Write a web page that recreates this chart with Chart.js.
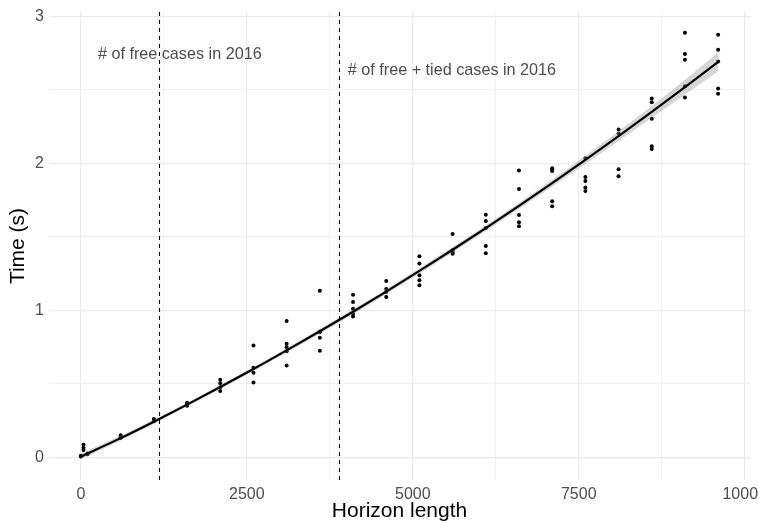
<!DOCTYPE html>
<html>
<head>
<meta charset="utf-8">
<script src="https://cdn.jsdelivr.net/npm/chart.js@4"></script>
<style>
  html, body { margin: 0; padding: 0; background: #fff; }
  #wrap { width: 758px; height: 523px; }
</style>
</head>
<body>
<div id="wrap"><canvas id="chart" width="758" height="523"></canvas></div>
<script>
// horizon lengths that were run, and the solve times (s) of each run
const horizons = [0, 40, 100, 600, 1100, 1600, 2100, 2600, 3100, 3600, 4100, 4600,
  5100, 5600, 6100, 6600, 7100, 7600, 8100, 8600, 9100, 9600];
const timesByHorizon = [
  [0.005, 0.01],
  [0.05, 0.065, 0.085],
  [0.02, 0.025],
  [0.13, 0.14, 0.15, 0.135],
  [0.245, 0.255, 0.26],
  [0.35, 0.36, 0.37],
  [0.527, 0.504, 0.477, 0.45],
  [0.761, 0.609, 0.575, 0.509],
  [0.927, 0.772, 0.749, 0.722, 0.625],
  [1.133, 0.856, 0.813, 0.725, 0.85],
  [1.106, 1.056, 1.011, 0.977, 0.958],
  [1.199, 1.145, 1.124, 1.09],
  [1.367, 1.319, 1.238, 1.204, 1.17],
  [1.519, 1.408, 1.385, 1.395],
  [1.651, 1.608, 1.56, 1.437, 1.388],
  [1.951, 1.826, 1.649, 1.599, 1.572],
  [1.967, 1.948, 1.742, 1.708, 1.955],
  [2.035, 1.907, 1.88, 1.835, 1.812],
  [2.23, 2.203, 1.96, 1.912],
  [2.441, 2.416, 2.303, 2.117, 2.098],
  [2.888, 2.745, 2.705, 2.525, 2.448],
  [2.875, 2.773, 2.693, 2.51, 2.473]
];

// smoothed fit and its confidence band
const fitX = [0, 600, 1100, 1600, 2100, 2600, 3100, 3600, 4100, 4600, 5100, 5600,
  6100, 6600, 7100, 7600, 8100, 8600, 9100, 9600];
const fitY = [0.005, 0.13, 0.242, 0.358, 0.478, 0.6, 0.727, 0.857, 0.99, 1.127, 1.268,
  1.412, 1.559, 1.71, 1.865, 2.023, 2.185, 2.35, 2.519, 2.69];
const bandLow = [-0.015, 0.114, 0.228, 0.345, 0.465, 0.586, 0.712, 0.841, 0.973, 1.11,
  1.25, 1.394, 1.54, 1.689, 1.841, 1.995, 2.152, 2.31, 2.469, 2.625];
const bandHigh = [0.025, 0.146, 0.256, 0.371, 0.491, 0.614, 0.742, 0.873, 1.007, 1.144,
  1.286, 1.43, 1.578, 1.731, 1.889, 2.051, 2.218, 2.39, 2.569, 2.755];

// reference lines and their notes
const refLinesX = [1180, 3895];
const noteTexts = ["# of free cases in 2016", "# of free + tied cases in 2016"];
const noteX = [1490, 5590];
const noteY = [2.74, 2.63];

// grid lines (major ones get a label)
const xGrid = [0, 1250, 2500, 3750, 5000, 6250, 7500, 8750, 10000];
const xTicksMajor = [0, 2500, 5000, 7500, 10000];
const yGrid = [0, 0.5, 1, 1.5, 2, 2.5, 3];
const yTicksMajor = [0, 1, 2, 3];

const FONT = "'Liberation Sans', Arial, Helvetica, sans-serif";

const points = [];
horizons.forEach((h, i) => {
  timesByHorizon[i].forEach((t) => points.push({ x: h, y: t }));
});
const toXY = (ys) => fitX.map((x, i) => ({ x: x, y: ys[i] }));

// dashed vertical lines + text labels, placed through the scales
const refPlugin = {
  id: "refLines",
  afterDatasetsDraw(chart) {
    const { ctx, chartArea, scales } = chart;
    ctx.save();
    ctx.strokeStyle = "#000";
    ctx.lineWidth = 1.1;
    ctx.setLineDash([4, 4]);
    refLinesX.forEach((v) => {
      const px = Math.round(scales.x.getPixelForValue(v)) + 0.5;
      ctx.beginPath();
      ctx.moveTo(px, chartArea.top);
      ctx.lineTo(px, chartArea.bottom);
      ctx.stroke();
    });
    ctx.setLineDash([]);
    ctx.fillStyle = "#4d4d4d";
    ctx.font = "16.2px " + FONT;
    ctx.textAlign = "center";
    ctx.textBaseline = "middle";
    noteTexts.forEach((txt, i) => {
      ctx.fillText(txt, scales.x.getPixelForValue(noteX[i]), scales.y.getPixelForValue(noteY[i]));
    });
    ctx.restore();
  }
};

const ctx = document.getElementById("chart").getContext("2d");
new Chart(ctx, {
  type: "scatter",
  data: {
    datasets: [
      {
        label: "fit",
        type: "line",
        data: toXY(fitY),
        borderColor: "#000",
        borderWidth: 2.2,
        pointRadius: 0,
        fill: false,
        cubicInterpolationMode: "monotone",
        order: 1
      },
      {
        label: "upper",
        type: "line",
        data: toXY(bandHigh),
        borderWidth: 0,
        pointRadius: 0,
        backgroundColor: "rgba(153,153,153,0.4)",
        fill: "+1",
        cubicInterpolationMode: "monotone",
        order: 2
      },
      {
        label: "lower",
        type: "line",
        data: toXY(bandLow),
        borderWidth: 0,
        pointRadius: 0,
        fill: false,
        cubicInterpolationMode: "monotone",
        order: 2
      },
      {
        label: "runs",
        data: points,
        backgroundColor: "#000",
        borderWidth: 0,
        pointRadius: 2,
        order: 3
      }
    ]
  },
  options: {
    responsive: false,
    animation: false,
    events: [],
    layout: { padding: { top: 12, right: 8, left: 0, bottom: 0 } },
    plugins: { legend: { display: false }, tooltip: { enabled: false } },
    scales: {
      x: {
        type: "linear",
        min: -480,
        max: 10080,
        border: { display: false },
        grid: {
          color: "#ebebeb",
          drawTicks: false,
          lineWidth: (c) => (xTicksMajor.includes(c.tick.value) ? 1.2 : 0.7)
        },
        afterBuildTicks: (scale) => {
          scale.ticks = xGrid.map((v) => ({ value: v }));
        },
        ticks: {
          autoSkip: false,
          maxRotation: 0,
          padding: 5,
          color: "#4d4d4d",
          font: { family: FONT, size: 16 },
          callback: (v) => (xTicksMajor.includes(v) ? String(v) : "")
        },
        title: {
          display: true,
          text: "Horizon length",
          color: "#000",
          font: { family: FONT, size: 21, lineHeight: 1.1 },
          padding: { top: 0, bottom: 0 }
        },
        afterFit: (scale) => {
          scale.height = 43;
          scale.paddingLeft = 0;
          scale.paddingRight = 0;
        }
      },
      y: {
        type: "linear",
        min: -0.155,
        max: 3.03,
        border: { display: false },
        grid: {
          color: "#ebebeb",
          drawTicks: false,
          lineWidth: (c) => (yTicksMajor.includes(c.tick.value) ? 1.2 : 0.7)
        },
        afterBuildTicks: (scale) => {
          scale.ticks = yGrid.map((v) => ({ value: v }));
        },
        ticks: {
          autoSkip: false,
          padding: 5,
          color: "#4d4d4d",
          font: { family: FONT, size: 16 },
          callback: (v) => (yTicksMajor.includes(v) ? String(v) : "")
        },
        title: {
          display: true,
          text: "Time (s)",
          color: "#000",
          font: { family: FONT, size: 21, lineHeight: 1.1 },
          padding: { top: 7, bottom: 0 }
        },
        afterFit: (scale) => {
          scale.width = 49;
          scale.paddingTop = 0;
          scale.paddingBottom = 0;
        }
      }
    }
  },
  plugins: [refPlugin]
});
</script>
</body>
</html>
